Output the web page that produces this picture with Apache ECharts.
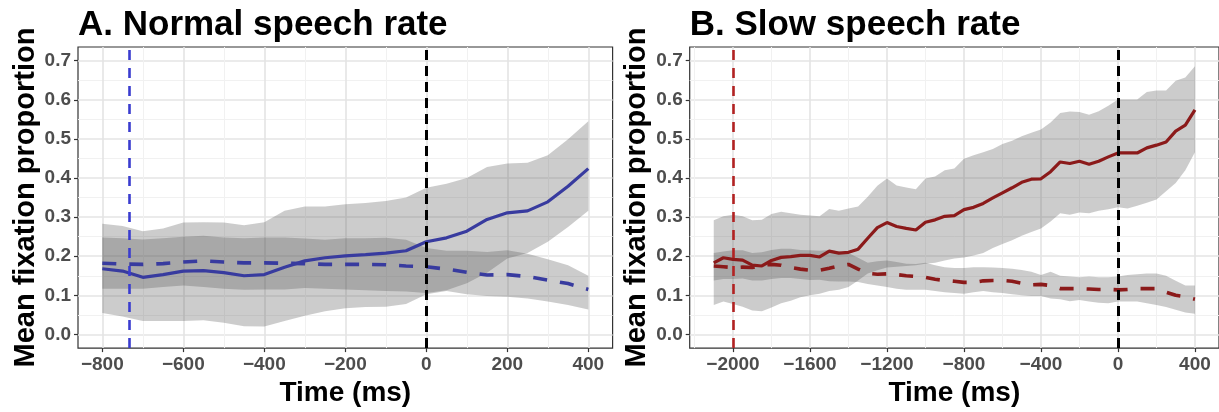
<!DOCTYPE html>
<html><head><meta charset="utf-8">
<script src="https://cdn.jsdelivr.net/npm/echarts@6/dist/echarts.min.js"></script>
<style>html,body{margin:0;padding:0;background:#fff}#c{width:1219px;height:412px}</style>
</head><body><div id="c"></div>
<script>
// ---------- Panel A: normal speech rate ----------
const timeA = [-800,-750,-700,-650,-600,-550,-500,-450,-400,-350,-300,-250,-200,-150,-100,-50,0,50,100,150,200,250,300,350,400];
const targetA = [0.168,0.162,0.146,0.153,0.162,0.163,0.158,0.150,0.153,0.172,0.188,0.196,0.201,0.204,0.208,0.214,0.237,0.247,0.264,0.294,0.311,0.316,0.339,0.379,0.424];
const competitorA = [0.182,0.180,0.179,0.181,0.185,0.188,0.185,0.183,0.183,0.182,0.181,0.179,0.179,0.179,0.178,0.175,0.173,0.167,0.159,0.152,0.153,0.148,0.139,0.130,0.115];
const targetHiA = [0.283,0.277,0.264,0.271,0.286,0.287,0.286,0.279,0.287,0.316,0.327,0.327,0.333,0.336,0.341,0.350,0.375,0.385,0.400,0.428,0.437,0.439,0.458,0.499,0.545];
const targetLoA = [0.117,0.117,0.117,0.121,0.125,0.121,0.117,0.114,0.115,0.115,0.119,0.117,0.115,0.113,0.111,0.110,0.106,0.113,0.131,0.158,0.194,0.208,0.237,0.275,0.316];
const competitorHiA = [0.248,0.246,0.243,0.246,0.250,0.252,0.248,0.246,0.248,0.248,0.245,0.242,0.246,0.246,0.247,0.242,0.221,0.214,0.214,0.211,0.215,0.206,0.192,0.177,0.150];
const competitorLoA = [0.055,0.046,0.034,0.034,0.034,0.036,0.030,0.021,0.020,0.034,0.048,0.059,0.067,0.070,0.071,0.078,0.103,0.111,0.103,0.098,0.096,0.092,0.084,0.075,0.064];

// ---------- Panel B: slow speech rate ----------
const timeB = [-2100,-2050,-2000,-1950,-1900,-1850,-1800,-1750,-1700,-1650,-1600,-1550,-1500,-1450,-1400,-1350,-1300,-1250,-1200,-1150,-1100,-1050,-1000,-950,-900,-850,-800,-750,-700,-650,-600,-550,-500,-450,-400,-350,-300,-250,-200,-150,-100,-50,0,50,100,150,200,250,300,350,400];
const targetB = [0.183,0.196,0.192,0.190,0.177,0.175,0.189,0.197,0.199,0.202,0.202,0.198,0.213,0.208,0.210,0.218,0.246,0.273,0.286,0.276,0.271,0.267,0.287,0.293,0.302,0.304,0.319,0.325,0.335,0.349,0.362,0.375,0.389,0.397,0.398,0.416,0.441,0.437,0.443,0.435,0.443,0.454,0.464,0.464,0.464,0.477,0.484,0.492,0.520,0.535,0.574];
const competitorB = [0.175,0.173,0.171,0.172,0.171,0.177,0.179,0.177,0.171,0.167,0.164,0.164,0.169,0.175,0.179,0.167,0.156,0.154,0.155,0.153,0.150,0.148,0.146,0.141,0.138,0.136,0.133,0.133,0.137,0.138,0.138,0.136,0.131,0.127,0.128,0.125,0.117,0.117,0.117,0.116,0.115,0.115,0.114,0.115,0.117,0.117,0.117,0.108,0.100,0.096,0.090];
const targetHiB = [0.292,0.302,0.306,0.302,0.292,0.293,0.308,0.314,0.310,0.306,0.304,0.302,0.321,0.316,0.322,0.327,0.352,0.380,0.399,0.381,0.376,0.371,0.399,0.404,0.420,0.424,0.449,0.458,0.466,0.474,0.487,0.495,0.507,0.516,0.524,0.542,0.566,0.570,0.569,0.562,0.571,0.585,0.601,0.601,0.601,0.620,0.624,0.624,0.649,0.657,0.686];
const targetLoB = [0.075,0.084,0.078,0.071,0.061,0.059,0.069,0.080,0.086,0.095,0.100,0.104,0.111,0.114,0.121,0.138,0.156,0.164,0.171,0.173,0.175,0.177,0.181,0.183,0.189,0.194,0.197,0.202,0.208,0.221,0.231,0.241,0.252,0.262,0.271,0.289,0.310,0.306,0.312,0.310,0.316,0.320,0.325,0.322,0.329,0.337,0.345,0.366,0.387,0.420,0.466];
const competitorHiB = [0.208,0.212,0.215,0.215,0.208,0.210,0.216,0.219,0.219,0.216,0.215,0.214,0.216,0.212,0.208,0.196,0.183,0.187,0.189,0.185,0.181,0.180,0.183,0.177,0.172,0.170,0.170,0.172,0.172,0.171,0.170,0.168,0.165,0.160,0.152,0.160,0.150,0.148,0.146,0.148,0.146,0.146,0.148,0.152,0.154,0.156,0.156,0.150,0.137,0.125,0.125];
const competitorLoB = [0.138,0.142,0.142,0.143,0.138,0.138,0.142,0.144,0.144,0.142,0.139,0.140,0.136,0.135,0.135,0.134,0.129,0.125,0.121,0.117,0.114,0.114,0.114,0.111,0.108,0.106,0.104,0.108,0.111,0.108,0.106,0.103,0.100,0.098,0.098,0.092,0.090,0.085,0.088,0.084,0.081,0.080,0.084,0.084,0.084,0.080,0.075,0.070,0.063,0.056,0.053];

// ---------- ticks, reference lines, text ----------
const yTicks = [0,0.1,0.2,0.3,0.4,0.5,0.6,0.7];
const yMinor = [0.05,0.15,0.25,0.35,0.45,0.55,0.65];
const xTicksA = [-800,-600,-400,-200,0,200,400];
const xMinorA = [-700,-500,-300,-100,100,300];
const xTicksB = [-2000,-1600,-1200,-800,-400,0,400];
const xMinorB = [-2200,-1800,-1400,-1000,-600,-200,200];
const onsetA = [-733];
const onsetB = [-2000];
const zeroLine = [0];
const titles = ['A. Normal speech rate', 'B. Slow speech rate'];
const xTitle = 'Time (ms)';
const yTitle = 'Mean fixation proportion';

const FONT = '"Liberation Sans", Arial, Helvetica, sans-serif';
const chart = echarts.init(document.getElementById('c'), null, {renderer: 'canvas'});

const panels = [
  {left: 78, width: 534.6, xmin: -860, xmax: 460, ticks: xTicksA, minor: xMinorA,
   time: timeA, tgt: targetA, cmp: competitorA, tHi: targetHiA, tLo: targetLoA, cHi: competitorHiA, cLo: competitorLoA,
   lineColor: '#383b9f', onset: onsetA, onsetColor: '#3a3ccf'},
  {left: 689.7, width: 532.8, xmin: -2225, xmax: 525, ticks: xTicksB, minor: xMinorB,
   time: timeB, tgt: targetB, cmp: competitorB, tHi: targetHiB, tLo: targetLoB, cHi: competitorHiB, cLo: competitorLoB,
   lineColor: '#8b1a1a', onset: onsetB, onsetColor: '#b22222'}
];

const grids = [], xAxes = [], yAxes = [], series = [], titleOpts = [];
const minus = v => String(v).replace('-', '\u2212');
const RIB = 'rgba(82,82,82,0.294)';

panels.forEach((p, k) => {
  grids.push({left: p.left, top: 47, width: p.width, height: 308.7, show: true,
    borderColor: '#333333', borderWidth: 1.2, backgroundColor: 'transparent', containLabel: false});
  titleOpts.push({text: titles[k], left: p.left, top: 8, padding: 0,
    textStyle: {fontFamily: FONT, fontSize: 35, fontWeight: 'bold', color: '#000'}});
  xAxes.push({type: 'value', gridIndex: k, min: p.xmin, max: p.xmax,
    axisLine: {show: false, onZero: false},
    axisTick: {show: true, length: 4, customValues: p.ticks, lineStyle: {color: '#333', width: 1.2}},
    axisLabel: {show: true, customValues: p.ticks, margin: 7, formatter: v => minus(v),
      fontFamily: FONT, fontSize: 19, fontWeight: 'bold', color: '#4d4d4d'},
    splitLine: {show: true, lineStyle: {color: '#e4e4e4', width: 1.6}},
    name: xTitle, nameLocation: 'middle', nameGap: 23,
    nameTextStyle: {fontFamily: FONT, fontSize: 28, fontWeight: 'bold', color: '#000'}});
  xAxes.push({type: 'value', gridIndex: k, min: p.xmin, max: p.xmax,
    axisLine: {show: false, onZero: false}, axisLabel: {show: false},
    axisTick: {show: false, customValues: p.minor},
    splitLine: {show: true, lineStyle: {color: '#f1f1f1', width: 1}}});
  yAxes.push({type: 'value', gridIndex: k, min: -0.035, max: 0.735,
    axisLine: {show: false, onZero: false},
    axisTick: {show: true, length: 4, customValues: yTicks, lineStyle: {color: '#333', width: 1.2}},
    axisLabel: {show: true, customValues: yTicks, margin: 7, formatter: v => v.toFixed(1),
      fontFamily: FONT, fontSize: 19, fontWeight: 'bold', color: '#4d4d4d'},
    splitLine: {show: true, lineStyle: {color: '#e4e4e4', width: 1.6}},
    name: yTitle, nameLocation: 'middle', nameGap: 38, nameRotate: 90,
    nameTextStyle: {fontFamily: FONT, fontSize: 29, fontWeight: 'bold', color: '#000'}});
  yAxes.push({type: 'value', gridIndex: k, min: -0.035, max: 0.735,
    axisLine: {show: false, onZero: false}, axisLabel: {show: false},
    axisTick: {show: false, customValues: yMinor},
    splitLine: {show: true, lineStyle: {color: '#f1f1f1', width: 1}}});

  const xi = 2 * k, yi = 2 * k;
  const ribbon = (lo, hi) => ({
    type: 'custom', xAxisIndex: xi, yAxisIndex: yi, silent: true, z: 1,
    encode: {x: 0, y: [1, 2]},
    data: p.time.map((t, i) => [t, lo[i], hi[i]]),
    renderItem: (params, api) => {
      if (params.dataIndexInside !== 0) return null;
      const up = p.time.map((t, i) => api.coord([t, hi[i]]));
      const dn = p.time.map((t, i) => api.coord([t, lo[i]])).reverse();
      return {type: 'polygon', shape: {points: up.concat(dn)}, style: {fill: RIB, stroke: null}, silent: true};
    }
  });
  series.push(ribbon(p.tLo, p.tHi));
  series.push(ribbon(p.cLo, p.cHi));
  series.push({type: 'line', xAxisIndex: xi, yAxisIndex: yi, symbol: 'none', silent: true, z: 3,
    lineStyle: {color: p.lineColor, width: 3.2, cap: 'butt'},
    data: p.time.map((t, i) => [t, p.tgt[i]])});
  series.push({type: 'line', xAxisIndex: xi, yAxisIndex: yi, symbol: 'none', silent: true, z: 3,
    lineStyle: {color: p.lineColor, width: 3.6, type: [14, 13], cap: 'butt'},
    data: p.time.map((t, i) => [t, p.cmp[i]]),
    markLine: {silent: true, symbol: ['none', 'none'], label: {show: false}, animation: false,
      data: [
        ...p.onset.map(v => ({xAxis: v, lineStyle: {color: p.onsetColor, width: 2.6, type: [10, 8]}})),
        ...zeroLine.map(v => ({xAxis: v, lineStyle: {color: '#000', width: 3, type: [10, 6]}}))
      ]}});
});

chart.setOption({
  animation: false,
  backgroundColor: '#ffffff',
  title: titleOpts,
  grid: grids,
  xAxis: xAxes,
  yAxis: yAxes,
  series: series
});
</script>
</body></html>
